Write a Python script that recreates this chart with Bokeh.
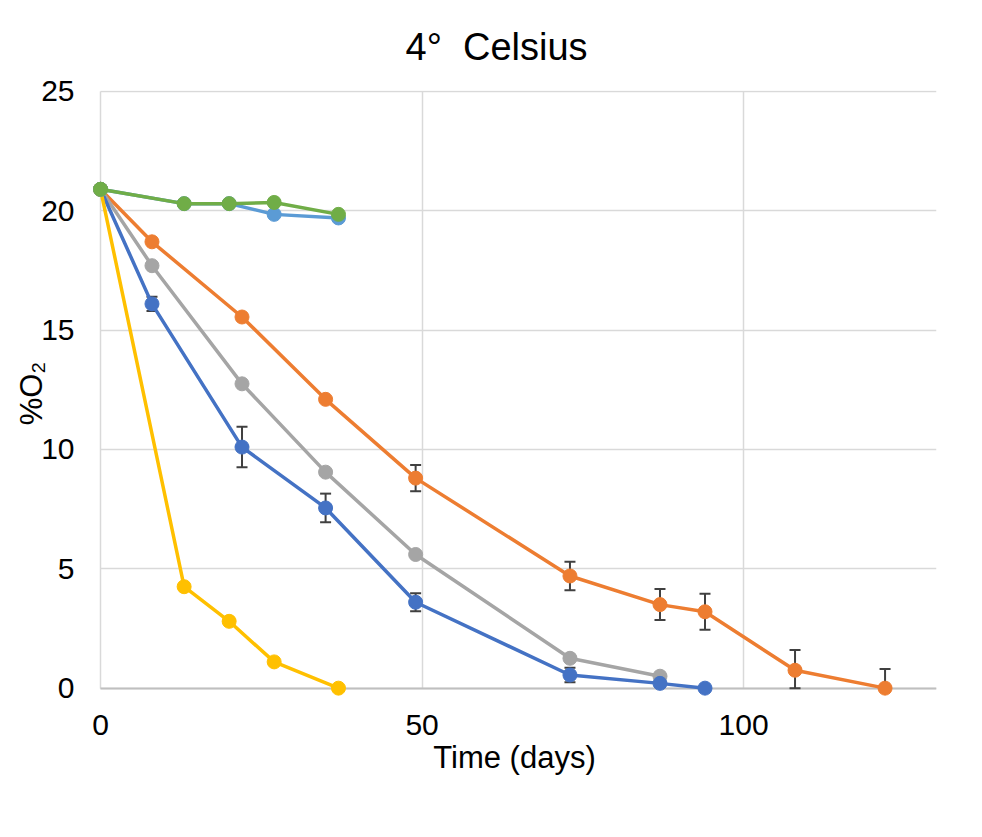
from bokeh.plotting import figure
from bokeh.models import Range1d, FixedTicker, Grid, Whisker, ColumnDataSource, TeeHead
from bokeh.embed import file_html
from bokeh.resources import INLINE
import numpy as np

# ---- data ----
days_blue = [0, 8, 22, 35, 49, 73, 87, 94]
o2_blue = [20.9, 16.1, 10.1, 7.55, 3.6, 0.55, 0.2, 0.0]
err_blue = [0, 0.3, 0.85, 0.6, 0.38, 0.3, 0.1, 0]

days_orange = [0, 8, 22, 35, 49, 73, 87, 94, 108, 122]
o2_orange = [20.9, 18.7, 15.55, 12.1, 8.8, 4.7, 3.5, 3.2, 0.75, 0.0]
err_orange = [0, 0, 0, 0, 0.55, 0.6, 0.65, 0.75, 0.85, 0.8]

days_gray = [0, 8, 22, 35, 49, 73, 87]
o2_gray = [20.9, 17.7, 12.75, 9.05, 5.6, 1.25, 0.5]

days_yellow = [0, 13, 20, 27, 37]
o2_yellow = [20.9, 4.25, 2.8, 1.1, 0.0]

days_lblue = [0, 13, 20, 27, 37]
o2_lblue = [20.9, 20.3, 20.3, 19.85, 19.7]

days_green = [0, 13, 20, 27, 37]
o2_green = [20.9, 20.3, 20.3, 20.35, 19.85]

x_ticks = [0, 50, 100]
y_ticks = [0, 5, 10, 15, 20, 25]

FONT = "Liberation Sans"

p = figure(
    output_backend="svg", toolbar_location=None,
    frame_width=844, frame_height=606,
    min_border_left=92, min_border_right=30, min_border_top=90, min_border_bottom=125,
    x_range=Range1d(-1.25, 130), y_range=Range1d(-0.35, 25.04),
    background_fill_color="white", border_fill_color="white",
    outline_line_color=None,
)

p.title.text = "4°\u00a0\u00a0Celsius"
p.title.align = "left"
p.title.text_font = FONT
p.title.text_font_size = "38px"
p.title.text_font_style = "normal"
p.title.text_color = "#000000"
p.title.offset = 313
p.title.standoff = 45

# grids
p.xgrid.ticker = FixedTicker(ticks=x_ticks)
p.ygrid.ticker = FixedTicker(ticks=y_ticks)
p.xgrid.grid_line_color = "#d9d9d9"
p.ygrid.grid_line_color = "#d9d9d9"
p.xgrid.grid_line_width = 1.5
p.ygrid.grid_line_width = 1.5
p.xgrid.cross_bounds = (0, 25)
p.ygrid.cross_bounds = (0, 130)
zero_grid = Grid(dimension=1, ticker=FixedTicker(ticks=[0]), grid_line_color="#bfbfbf",
                 grid_line_width=2, cross_bounds=(0, 130))
p.add_layout(zero_grid)

# axes
for ax in (p.xaxis[0], p.yaxis[0]):
    ax.axis_line_color = None
    ax.major_tick_line_color = None
    ax.minor_tick_line_color = None
    ax.major_label_text_font = FONT
    ax.major_label_text_font_size = "30px"
    ax.major_label_text_color = "#000000"
    ax.axis_label_text_font = FONT
    ax.axis_label_text_font_style = "normal"
    ax.axis_label_text_color = "#000000"

p.xaxis.ticker = FixedTicker(ticks=x_ticks)
p.yaxis.ticker = FixedTicker(ticks=y_ticks)
p.xaxis.major_label_standoff = 12
p.yaxis.major_label_standoff = 12
p.xaxis.axis_label = "Time (days)"
p.xaxis.axis_label_text_font_size = "31px"
p.xaxis.axis_label_standoff = 2
p.yaxis.axis_label = "%O₂"
p.yaxis.axis_label_text_font_size = "31px"
p.yaxis.axis_label_standoff = -11

series = [
    (days_orange, o2_orange, "#ED7D31"),
    (days_gray, o2_gray, "#A5A5A5"),
    (days_blue, o2_blue, "#4472C4"),
    (days_yellow, o2_yellow, "#FFC000"),
    (days_lblue, o2_lblue, "#5B9BD5"),
    (days_green, o2_green, "#70AD47"),
]
for xs, ys, col in series:
    p.line(xs, ys, line_color=col, line_width=3.5)
    p.scatter(xs, ys, size=14, fill_color=col, line_color=col)

for xs, ys, es in [(days_blue, o2_blue, err_blue), (days_orange, o2_orange, err_orange)]:
    xs_a = np.array(xs, dtype=float)
    ys_a = np.array(ys, dtype=float)
    es_a = np.array(es, dtype=float)
    m = es_a > 0
    src = ColumnDataSource(dict(x=xs_a[m], lo=np.maximum(ys_a[m] - es_a[m], 0), hi=ys_a[m] + es_a[m]))
    w = Whisker(source=src, base="x", lower="lo", upper="hi", dimension="height",
                line_color="#404040", line_width=2,
                upper_head=TeeHead(size=11, line_color="#404040", line_width=2),
                lower_head=TeeHead(size=11, line_color="#404040", line_width=2))
    p.add_layout(w)

open("out.html", "w").write(file_html(p, INLINE))
